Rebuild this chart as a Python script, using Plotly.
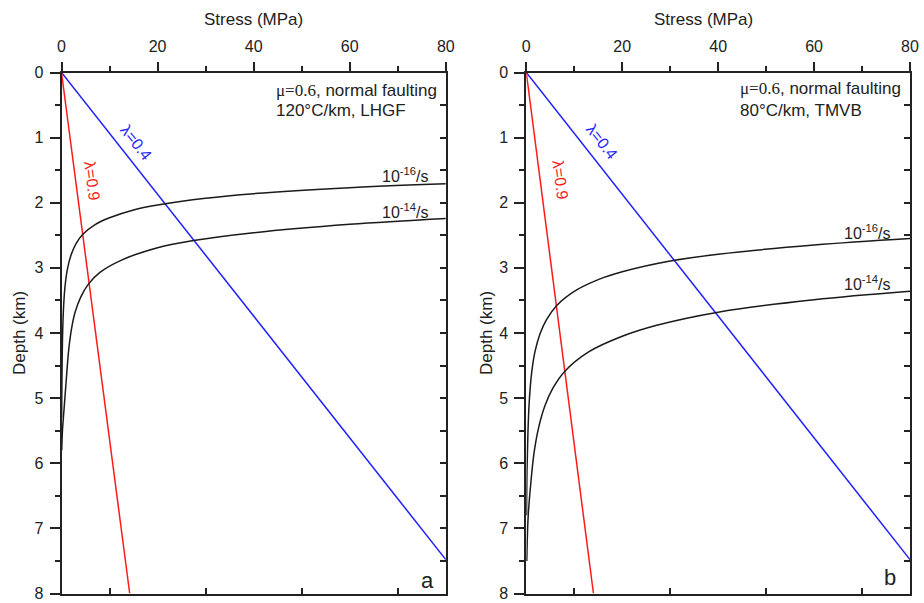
import plotly.graph_objects as go

# ---------------- data ----------------
stress_ticks = [0, 20, 40, 60, 80]
depth_ticks = [0, 1, 2, 3, 4, 5, 6, 7, 8]

# lambda lines (stress MPa, depth km)
lhgf_lam04_stress = [0, 80]
lhgf_lam04_depth = [0, 7.48]
lhgf_lam09_stress = [0, 14.2]
lhgf_lam09_depth = [0, 8.0]
tmvb_lam04_stress = [0, 80]
tmvb_lam04_depth = [0, 7.48]
tmvb_lam09_stress = [0, 14.0]
tmvb_lam09_depth = [0, 8.0]

# creep curves, panel a (120 C/km, LHGF)
lhgf_e16_stress = [80, 60, 40, 30, 20, 15, 10, 7, 4.5, 3, 2, 1.2, 0.7, 0.4, 0.2, 0.08, 0.03]
lhgf_e16_depth = [1.71, 1.77, 1.86, 1.93, 2.035, 2.11, 2.23, 2.335, 2.48, 2.63, 2.80, 3.03, 3.31, 3.65, 4.12, 4.8, 5.3]
lhgf_e14_stress = [80, 60, 40, 27.5, 20, 12.5, 8, 5.6, 4, 2.8, 2.1, 1.5, 1.0, 0.5, 0.2, 0.05]
lhgf_e14_depth = [2.24, 2.33, 2.46, 2.58, 2.69, 2.88, 3.07, 3.25, 3.45, 3.69, 3.93, 4.26, 4.71, 5.2, 5.5, 5.8]

# creep curves, panel b (80 C/km, TMVB)
tmvb_e16_stress = [80, 60, 40, 30, 20, 15, 10, 6.3, 4.25, 2.86, 1.8, 1.1, 0.6, 0.35, 0.15, 0.05]
tmvb_e16_depth = [2.55, 2.65, 2.79, 2.895, 3.06, 3.18, 3.36, 3.58, 3.79, 4.01, 4.29, 4.62, 5.07, 5.51, 6.1, 6.8]
tmvb_e14_stress = [80, 60, 40, 27, 20, 13, 8, 5.6, 3.9, 2.5, 1.6, 1.0, 0.4, 0.1]
tmvb_e14_depth = [3.36, 3.49, 3.68, 3.885, 4.05, 4.29, 4.59, 4.84, 5.115, 5.475, 5.85, 6.26, 6.8, 7.5]

FONT = "Arial, Liberation Sans, sans-serif"
BLUE = "#1f1fff"
RED = "#ff1a1a"
BLACK = "#1a1a1a"
LC = "#222"

W, H = 924, 603

def px(xp):
    return xp / W

def py(yp):
    return 1 - yp / H

fig = go.Figure()

def add_panel(xa, ya, lam04, lam09, e16, e14):
    fig.add_trace(go.Scatter(x=lam04[0], y=lam04[1], mode="lines", line=dict(color=BLUE, width=1.5),
                             xaxis=xa, yaxis=ya, showlegend=False, hoverinfo="skip"))
    fig.add_trace(go.Scatter(x=lam09[0], y=lam09[1], mode="lines", line=dict(color=RED, width=1.5),
                             xaxis=xa, yaxis=ya, showlegend=False, hoverinfo="skip"))
    for s, d in (e16, e14):
        fig.add_trace(go.Scatter(x=s, y=d, mode="lines", line=dict(color=BLACK, width=1.5, shape="spline", smoothing=1.0),
                                 xaxis=xa, yaxis=ya, showlegend=False, hoverinfo="skip"))

add_panel("x", "y", (lhgf_lam04_stress, lhgf_lam04_depth), (lhgf_lam09_stress, lhgf_lam09_depth),
          (lhgf_e16_stress, lhgf_e16_depth), (lhgf_e14_stress, lhgf_e14_depth))
add_panel("x2", "y2", (tmvb_lam04_stress, tmvb_lam04_depth), (tmvb_lam09_stress, tmvb_lam09_depth),
          (tmvb_e16_stress, tmvb_e16_depth), (tmvb_e14_stress, tmvb_e14_depth))

# dummy traces to register overlay axes
for xa, ya in (("x3", "y"), ("x", "y3"), ("x4", "y2"), ("x2", "y4")):
    fig.add_trace(go.Scatter(x=[None], y=[None], xaxis=xa, yaxis=ya, showlegend=False, hoverinfo="skip"))

ydom = [py(593.5), py(72.5)]
xdom1 = [px(61.5), px(445.8)]
xdom2 = [px(526.3), px(910.0)]

tickfont = dict(family=FONT, size=16, color=LC)

def top_x(dom, anchor):
    return dict(domain=dom, anchor=anchor, side="top", range=[0, 80], tickvals=stress_ticks,
                ticks="outside", ticklen=9, tickwidth=2, tickcolor=LC,
                minor=dict(dtick=10, tick0=0, ticks="outside", ticklen=5, tickwidth=2, tickcolor=LC),
                showline=True, linewidth=2, linecolor=LC, showgrid=False, zeroline=False,
                tickfont=tickfont, ticklabelstandoff=3, ticklabeloverflow="allow",
                fixedrange=True, automargin=False)

def bottom_x(over, anchor):
    return dict(overlaying=over, anchor=anchor, side="bottom", range=[0, 80], tickvals=[10, 30, 50, 70],
                ticks="inside", ticklen=6, tickwidth=2, tickcolor=LC, showticklabels=False,
                showline=True, linewidth=2, linecolor=LC, showgrid=False, zeroline=False, automargin=False)

def left_y(anchor):
    return dict(domain=ydom, anchor=anchor, range=[8, 0], tickvals=depth_ticks,
                ticks="outside", ticklen=10, tickwidth=2, tickcolor=LC,
                minor=dict(dtick=0.5, tick0=0, ticks="outside", ticklen=5, tickwidth=2, tickcolor=LC),
                showline=True, linewidth=2, linecolor=LC, showgrid=False, zeroline=False,
                tickfont=tickfont, ticklabelstandoff=3, ticklabeloverflow="allow",
                fixedrange=True, automargin=False)

def right_y(over, anchor):
    return dict(overlaying=over, anchor=anchor, side="right", range=[8, 0], dtick=0.5, tick0=0,
                ticks="inside", ticklen=6, tickwidth=2, tickcolor=LC, showticklabels=False,
                showline=True, linewidth=2, linecolor=LC, showgrid=False, zeroline=False, automargin=False)

fig.update_layout(
    width=W, height=H, margin=dict(l=0, r=0, t=0, b=0, autoexpand=False),
    paper_bgcolor="white", plot_bgcolor="white", showlegend=False,
    font=dict(family=FONT, color=LC),
    xaxis=top_x(xdom1, "y"), yaxis=left_y("x"),
    xaxis2=top_x(xdom2, "y2"), yaxis2=left_y("x2"),
    xaxis3=bottom_x("x", "y"), yaxis3=right_y("y", "x"),
    xaxis4=bottom_x("x2", "y2"), yaxis4=right_y("y2", "x2"),
)

ann = []
def A(**k):
    base = dict(showarrow=False, font=dict(family=FONT, size=16, color=LC))
    base.update(k)
    ann.append(base)

# axis titles
for cx in (253.6, 703.0):
    A(text="Stress (MPa)", xref="paper", yref="paper", x=px(cx), y=py(20),
      xanchor="center", yanchor="middle", font=dict(family=FONT, size=17, color=LC))
for cx in (19.0, 486.0):
    A(text="Depth (km)", xref="paper", yref="paper", x=px(cx), y=py(333), textangle=-90,
      xanchor="center", yanchor="middle", font=dict(family=FONT, size=17, color=LC))

serif_mu = "<span style='font-family:Liberation Serif, Times New Roman, serif'>μ=0.6</span>, normal faulting"
panels = [
    ("x", "y", "120°C/km, LHGF", 44.3, 0.27, 0.59, (15.5, 1.08), (6.4, 1.67), (76.8, 1.57), (76.8, 2.13), "a", (76.1, 7.80)),
    ("x2", "y2", "80°C/km, TMVB", 44.2, 0.24, 0.58, (15.7, 1.06), (7.0, 1.65), (76.2, 2.45), (76.2, 3.23), "b", (75.8, 7.75)),
]
for xr, yr, line2, tx, ty1, ty2, b4, r9, e16p, e14p, lab, labp in panels:
    A(text=serif_mu, xref=xr, yref=yr, x=tx, y=ty1, xanchor="left", yanchor="middle",
      font=dict(family=FONT, size=17, color=LC))
    A(text=line2, xref=xr, yref=yr, x=tx, y=ty2, xanchor="left", yanchor="middle",
      font=dict(family=FONT, size=17, color=LC))
    A(text="λ=0.4", xref=xr, yref=yr, x=b4[0], y=b4[1], textangle=51.7,
      font=dict(family=FONT, size=16, color=BLUE))
    A(text="λ=0.9", xref=xr, yref=yr, x=r9[0], y=r9[1], textangle=82.6,
      font=dict(family=FONT, size=16, color=RED))
    A(text="10<sup>-16</sup>/s", xref=xr, yref=yr, x=e16p[0], y=e16p[1], xanchor="right", yanchor="middle")
    A(text="10<sup>-14</sup>/s", xref=xr, yref=yr, x=e14p[0], y=e14p[1], xanchor="right", yanchor="middle")
    A(text=lab, xref=xr, yref=yr, x=labp[0], y=labp[1], xanchor="center", yanchor="middle",
      font=dict(family=FONT, size=22, color=LC))

fig.update_layout(annotations=ann)
fig.write_html("out.html", config={"displayModeBar": False},
               post_script="document.body.style.margin='0px';")
